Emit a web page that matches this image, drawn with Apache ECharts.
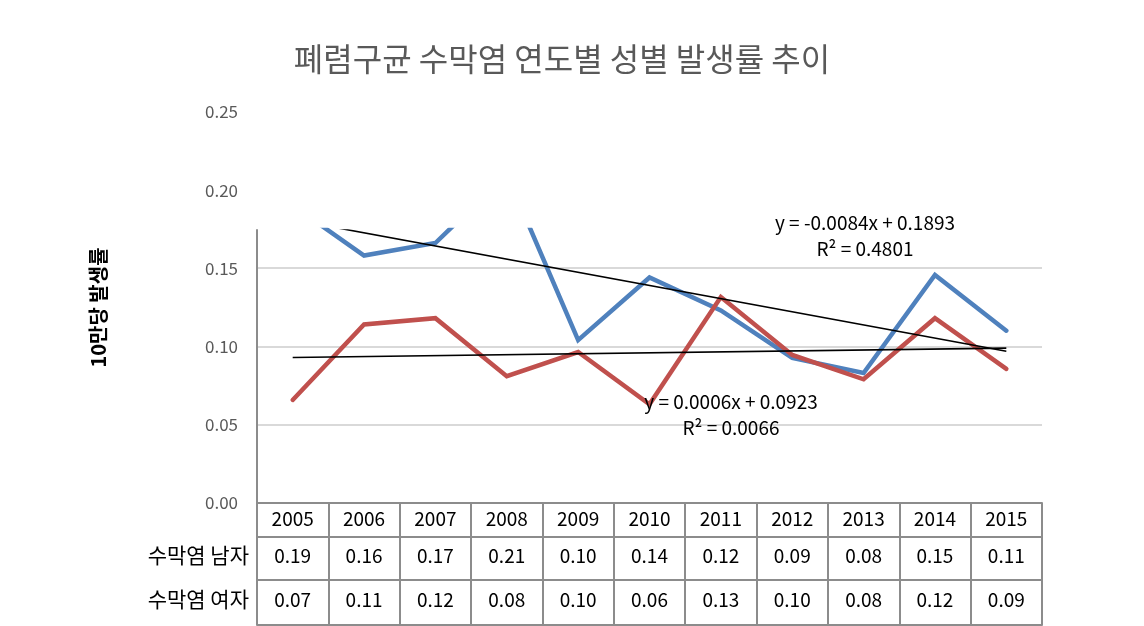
<!DOCTYPE html>
<html>
<head>
<meta charset="utf-8">
<script src="https://cdn.jsdelivr.net/npm/echarts@6/dist/echarts.min.js"></script>
<style>html,body{margin:0;padding:0;background:#fff}#c{width:1144px;height:626px}</style>
</head>
<body>
<div id="c"></div>
<script>
// ---- data ----
const years = ['2005','2006','2007','2008','2009','2010','2011','2012','2013','2014','2015'];
const maleRate   = [0.19, 0.158, 0.166, 0.21, 0.104, 0.144, 0.123, 0.0926, 0.083, 0.1456, 0.110];
const femaleRate = [0.0658, 0.114, 0.118, 0.081, 0.0964, 0.063, 0.1315, 0.0945, 0.079, 0.118, 0.0856];
const maleTable   = ['0.19','0.16','0.17','0.21','0.10','0.14','0.12','0.09','0.08','0.15','0.11'];
const femaleTable = ['0.07','0.11','0.12','0.08','0.10','0.06','0.13','0.10','0.08','0.12','0.09'];
const maleTrendEnds   = [0.1809, 0.0969];
const femaleTrendEnds = [0.0929, 0.0989];
const rowNames = ['수막염 남자','수막염 여자'];
const yTicks = [0, 0.05, 0.10, 0.15, 0.20, 0.25];

const FONT = '"Noto Sans CJK KR", "Noto Sans", sans-serif';
const GRAY = '#8c8c8c';
const chart = echarts.init(document.getElementById('c'));

const tableAxisBase = {
  type: 'category', gridIndex: 0, position: 'bottom', data: years, boundaryGap: true,
  axisLine: {show: true, lineStyle: {color: GRAY, width: 2}},
  axisTick: {show: true, interval: 0, lineStyle: {color: GRAY, width: 2}},
  axisLabel: {interval: 0, color: '#000', fontSize: 19, fontFamily: FONT},
  splitLine: {show: false}
};

chart.setOption({
  animation: false,
  textStyle: {fontFamily: FONT},
  title: {
    text: '폐렴구균 수막염 연도별 성별 발생률 추이',
    left: 557, top: 38, textAlign: 'center',
    textStyle: {fontSize: 32, fontWeight: 'normal', color: '#595959', fontFamily: FONT}
  },
  grid: [
    {left: 257, right: 102, top: 230, bottom: 123},
    {left: 257, right: 102, top: 112, bottom: 123}
  ],
  xAxis: [
    Object.assign({}, tableAxisBase, {
      axisTick: Object.assign({}, tableAxisBase.axisTick, {length: 34}),
      axisLabel: Object.assign({}, tableAxisBase.axisLabel, {margin: 6})
    }),
    Object.assign({}, tableAxisBase, {
      offset: 34,
      axisTick: Object.assign({}, tableAxisBase.axisTick, {length: 43}),
      axisLabel: Object.assign({}, tableAxisBase.axisLabel, {margin: 9, formatter: (v, i) => maleTable[i]}),
      name: rowNames[0], nameLocation: 'start', nameGap: 8,
      nameTextStyle: {fontSize: 21, color: '#000', fontFamily: FONT, verticalAlign: 'top', padding: [8, 0, 0, 0]}
    }),
    Object.assign({}, tableAxisBase, {
      offset: 77,
      axisTick: Object.assign({}, tableAxisBase.axisTick, {length: 45}),
      axisLabel: Object.assign({}, tableAxisBase.axisLabel, {margin: 10, formatter: (v, i) => femaleTable[i]}),
      name: rowNames[1], nameLocation: 'start', nameGap: 8,
      nameTextStyle: {fontSize: 21, color: '#000', fontFamily: FONT, verticalAlign: 'top', padding: [9, 0, 0, 0]}
    }),
    Object.assign({}, tableAxisBase, {
      offset: 122,
      axisTick: {show: false},
      axisLabel: {show: false}
    }),
    {type: 'category', gridIndex: 1, data: years, show: false}
  ],
  yAxis: [
    {
      type: 'value', gridIndex: 0, min: 0, max: 0.1743, interval: 0.05,
      axisLine: {show: true, lineStyle: {color: GRAY, width: 2}},
      axisTick: {show: false},
      axisLabel: {show: false},
      splitLine: {show: true, showMaxLine: false, showMinLine: false, lineStyle: {color: '#d9d9d9', width: 2}}
    },
    {
      type: 'value', gridIndex: 1, min: yTicks[0], max: yTicks[yTicks.length - 1], interval: 0.05,
      axisLine: {show: false}, axisTick: {show: false}, splitLine: {show: false},
      axisLabel: {color: '#595959', fontSize: 17, margin: 19, fontFamily: FONT, formatter: v => v.toFixed(2)},
      name: '10만당 발생률', nameLocation: 'middle', nameGap: 149, nameRotate: 90,
      nameTextStyle: {fontSize: 20, fontWeight: 'bold', color: '#000', fontFamily: FONT}
    }
  ],
  series: [
    {
      type: 'line', xAxisIndex: 0, yAxisIndex: 0, data: maleRate, symbol: 'none', clip: true,
      lineStyle: {color: '#4f81bd', width: 4.5, cap: 'round', join: 'miter'}, z: 2
    },
    {
      type: 'line', xAxisIndex: 0, yAxisIndex: 0, data: femaleRate, symbol: 'none', clip: true,
      lineStyle: {color: '#c0504d', width: 4.5, cap: 'round', join: 'miter'}, z: 2
    },
    {
      type: 'line', xAxisIndex: 0, yAxisIndex: 0, symbol: 'none', clip: true,
      data: [[years[0], maleTrendEnds[0]], [years[years.length - 1], maleTrendEnds[1]]],
      lineStyle: {color: '#000', width: 1.6}, z: 3
    },
    {
      type: 'line', xAxisIndex: 0, yAxisIndex: 0, symbol: 'none', clip: true,
      data: [[years[0], femaleTrendEnds[0]], [years[years.length - 1], femaleTrendEnds[1]]],
      lineStyle: {color: '#000', width: 1.6}, z: 3
    }
  ],
  graphic: [
    {type: 'text', x: 865, y: 223, z: 10, style: {text: 'y = -0.0084x + 0.1893', fill: '#000', font: '19px ' + FONT, textAlign: 'center', textVerticalAlign: 'middle'}},
    {type: 'text', x: 865, y: 249, z: 10, style: {text: 'R² = 0.4801', fill: '#000', font: '19px ' + FONT, textAlign: 'center', textVerticalAlign: 'middle'}},
    {type: 'text', x: 731, y: 402, z: 10, style: {text: 'y = 0.0006x + 0.0923', fill: '#000', font: '19px ' + FONT, textAlign: 'center', textVerticalAlign: 'middle'}},
    {type: 'text', x: 731, y: 428, z: 10, style: {text: 'R² = 0.0066', fill: '#000', font: '19px ' + FONT, textAlign: 'center', textVerticalAlign: 'middle'}}
  ]
});
</script>
</body>
</html>
